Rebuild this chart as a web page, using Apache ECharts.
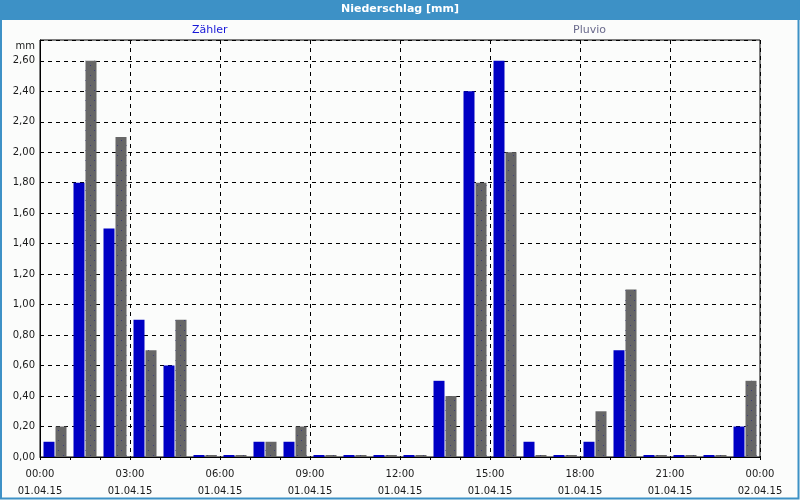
<!DOCTYPE html>
<html>
<head>
<meta charset="utf-8">
<script src="https://cdn.jsdelivr.net/npm/echarts@6/dist/echarts.min.js"></script>
<style>
html,body{margin:0;padding:0;background:#fbfcfb;}
#chart{width:800px;height:500px;}
</style>
</head>
<body>
<div id="chart"></div>
<script>
// Data
const hours = ['00:00','01:00','02:00','03:00','04:00','05:00','06:00','07:00','08:00','09:00','10:00','11:00',
               '12:00','13:00','14:00','15:00','16:00','17:00','18:00','19:00','20:00','21:00','22:00','23:00'];
const zaehler = [0.1, 1.8, 1.5, 0.9, 0.6, 0, 0, 0.1, 0.1, 0, 0, 0, 0, 0.5, 2.4, 2.6, 0.1, 0, 0.1, 0.7, 0, 0, 0, 0.2];
const pluvio  = [0.2, 2.6, 2.1, 0.7, 0.9, 0, 0, 0.1, 0.2, 0, 0, 0, 0, 0.4, 1.8, 2.0, 0, 0, 0.3, 1.1, 0, 0, 0, 0.5];
const tickTimes = ['00:00','03:00','06:00','09:00','12:00','15:00','18:00','21:00','00:00'];
const tickDates = ['01.04.15','01.04.15','01.04.15','01.04.15','01.04.15','01.04.15','01.04.15','01.04.15','02.04.15'];

const FONT = 'DejaVu Sans';
const chart = echarts.init(document.getElementById('chart'));
chart.setOption({
  backgroundColor: '#fbfcfb',
  animation: false,
  textStyle: { fontFamily: FONT },
  title: {
    text: 'Niederschlag [mm]',
    left: 'center', top: 4, padding: 0,
    textStyle: { color: '#ffffff', fontSize: 11, fontWeight: 'bold', fontFamily: FONT }
  },
  graphic: [
    { type: 'rect', z: 0, shape: { x: 0, y: 0, width: 800, height: 20 }, style: { fill: '#3d91c6' } },
    { type: 'rect', z: 0, shape: { x: 1, y: 1, width: 797.5, height: 497.5 }, style: { fill: null, stroke: '#3d91c6', lineWidth: 2 } }
  ],
  legend: [
    { data: [{ name: 'Zähler', textStyle: { color: '#1818d8' } }], left: 187, top: 25, icon: 'rect', itemWidth: 0, itemHeight: 0, padding: 0,
      textStyle: { fontSize: 11, fontFamily: FONT } },
    { data: [{ name: 'Pluvio', textStyle: { color: '#6a6a8c' } }], left: 568, top: 25, icon: 'rect', itemWidth: 0, itemHeight: 0, padding: 0,
      textStyle: { fontSize: 11, fontFamily: FONT } }
  ],
  grid: { left: 40, right: 40, top: 40, bottom: 39, show: true, borderColor: '#000', borderWidth: 1, backgroundColor: 'transparent' },
  xAxis: [
    {
      type: 'category', data: hours, boundaryGap: true,
      axisLine: { lineStyle: { color: '#000', width: 1 } },
      axisTick: { show: true, interval: 0, length: 3, lineStyle: { color: '#000' } },
      axisLabel: { show: false },
      splitLine: { show: false }
    },
    {
      type: 'value', min: 0, max: 24, interval: 3, position: 'bottom',
      axisLine: { show: false }, axisTick: { show: false },
      axisLabel: {
        margin: 9, fontSize: 10, color: '#1a1a1a', lineHeight: 17, fontFamily: FONT,
        formatter: function (v) { const i = Math.round(v / 3); return tickTimes[i] + '\n' + tickDates[i]; }
      },
      splitLine: { show: true, lineStyle: { color: '#000', type: [4, 4], width: 1 } }
    }
  ],
  yAxis: {
    type: 'value', min: 0, max: function (v) { return v.max * 1.0525; }, interval: 0.2,
    name: 'mm', nameLocation: 'end', nameGap: -6,
    nameTextStyle: { align: 'right', verticalAlign: 'middle', padding: [0, 5, 0, 0], fontSize: 10, color: '#1a1a1a', fontFamily: FONT },
    axisLine: { show: true, lineStyle: { color: '#000' } },
    axisTick: { show: false },
    axisLabel: {
      margin: 5, fontSize: 10, color: '#1a1a1a', showMaxLabel: false, fontFamily: FONT,
      formatter: function (v) { return v.toFixed(2).replace('.', ','); }
    },
    splitLine: { show: true, lineStyle: { color: '#000', type: [4, 4], width: 1 } }
  },
  series: [
    {
      name: 'Zähler', type: 'bar', data: zaehler, barWidth: 11, barGap: '9.1%', barMinHeight: 2,
      itemStyle: { color: '#0000c4', borderWidth: 0, borderColor: 'rgba(0,0,0,0)' }
    },
    {
      name: 'Pluvio', type: 'bar', data: pluvio, barWidth: 11, barGap: '9.1%', barMinHeight: 2,
      itemStyle: {
        color: '#676767', borderWidth: 0, borderColor: 'rgba(0,0,0,0)',
        decal: { symbol: 'rect', symbolSize: 1, color: '#3c3c78', dashArrayX: [[1, 8], [0, 4, 1, 4]], dashArrayY: [1, 4] }
      }
    }
  ]
});
</script>
</body>
</html>
